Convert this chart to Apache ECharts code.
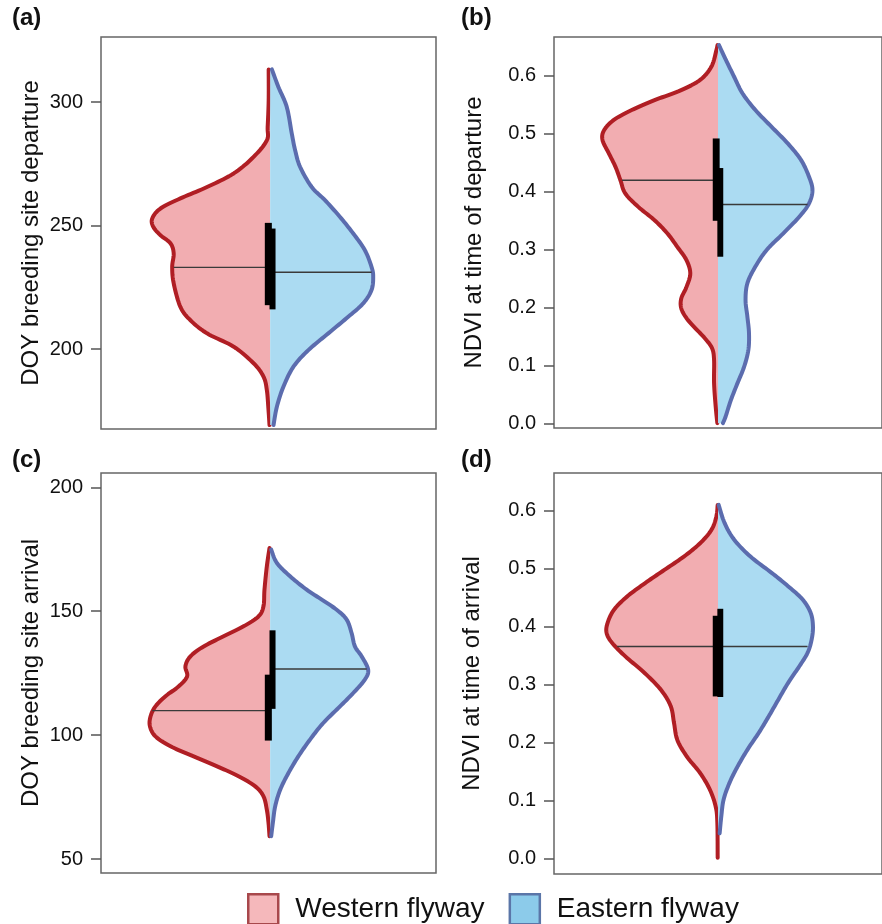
<!DOCTYPE html>
<html>
<head>
<meta charset="utf-8">
<script src="https://cdn.jsdelivr.net/npm/echarts@6/dist/echarts.min.js"></script>
<style>html,body{margin:0;padding:0;background:#fff}#chart{width:882px;height:924px}</style>
</head>
<body>
<div id="chart"></div>
<script>
// ---------- DATA ----------
// Each profile: [value, half-width density]
const depDOYWest = [[313.2,0.009],[300.7,0.009],[289.9,0.015],[284.5,0.020],[277.8,0.099],[271.1,0.218],[265.6,0.377],[261.0,0.536],[256.9,0.655],[252.9,0.704],[249.5,0.698],[246.1,0.655],[242.8,0.595],[238.7,0.576],[233.3,0.585],[226.6,0.576],[217.1,0.536],[211.7,0.476],[206.4,0.377],[201.0,0.218],[194.3,0.099],[188.9,0.040],[183.5,0.020],[175.4,0.010],[169.3,0.004]];
const depDOYEast = [[313.2,0.010],[306.1,0.049],[298.0,0.099],[287.2,0.129],[280.5,0.149],[273.7,0.179],[265.6,0.248],[260.3,0.327],[253.5,0.417],[246.8,0.496],[240.1,0.565],[233.3,0.605],[229.3,0.615],[223.9,0.605],[218.5,0.555],[213.1,0.466],[206.4,0.347],[199.6,0.228],[192.9,0.139],[184.8,0.079],[176.7,0.040],[169.3,0.020]];
const depNDVIWest = [[0.653,0.003],[0.644,0.010],[0.616,0.040],[0.593,0.109],[0.575,0.228],[0.558,0.387],[0.541,0.526],[0.524,0.635],[0.506,0.695],[0.489,0.704],[0.466,0.665],[0.443,0.625],[0.420,0.595],[0.397,0.565],[0.374,0.486],[0.351,0.387],[0.328,0.308],[0.305,0.248],[0.282,0.192],[0.259,0.169],[0.236,0.192],[0.216,0.224],[0.199,0.224],[0.182,0.192],[0.165,0.139],[0.147,0.079],[0.130,0.036],[0.110,0.024],[0.070,0.024],[0.029,0.014],[0.001,0.004]];
const depNDVIEast = [[0.653,0.006],[0.627,0.049],[0.598,0.099],[0.570,0.149],[0.541,0.228],[0.512,0.327],[0.483,0.427],[0.455,0.506],[0.426,0.555],[0.403,0.576],[0.380,0.555],[0.357,0.496],[0.328,0.397],[0.300,0.298],[0.271,0.228],[0.242,0.179],[0.213,0.168],[0.185,0.179],[0.156,0.189],[0.127,0.185],[0.098,0.159],[0.070,0.119],[0.041,0.079],[0.012,0.046],[0.001,0.030]];
const arrDOYWest = [[175.5,0.004],[168.1,0.020],[158.7,0.034],[152.0,0.040],[147.9,0.070],[143.9,0.159],[139.9,0.278],[135.8,0.397],[131.8,0.476],[127.8,0.506],[123.7,0.496],[119.7,0.546],[115.7,0.625],[111.6,0.685],[107.6,0.714],[103.6,0.718],[99.5,0.685],[95.5,0.595],[91.4,0.457],[87.4,0.317],[83.4,0.189],[79.3,0.089],[75.3,0.040],[69.9,0.020],[64.6,0.010],[59.2,0.004]];
const arrDOYEast = [[174.9,0.006],[169.5,0.040],[164.1,0.119],[158.7,0.218],[154.7,0.308],[150.6,0.397],[146.6,0.457],[141.2,0.486],[135.8,0.506],[131.8,0.546],[126.4,0.585],[122.4,0.565],[117.0,0.496],[111.6,0.417],[104.9,0.317],[98.2,0.238],[91.4,0.168],[84.7,0.109],[78.0,0.060],[71.3,0.030],[64.6,0.016],[59.2,0.006]];
const arrNDVIWest = [[0.610,0.002],[0.590,0.010],[0.567,0.040],[0.544,0.109],[0.521,0.208],[0.498,0.327],[0.475,0.446],[0.452,0.555],[0.429,0.635],[0.406,0.674],[0.389,0.679],[0.372,0.645],[0.349,0.565],[0.320,0.446],[0.291,0.347],[0.263,0.288],[0.234,0.268],[0.205,0.248],[0.176,0.189],[0.148,0.109],[0.119,0.049],[0.090,0.014],[0.062,0.004],[0.002,0.002]];
const arrNDVIEast = [[0.610,0.004],[0.579,0.040],[0.550,0.099],[0.521,0.198],[0.493,0.327],[0.470,0.427],[0.447,0.516],[0.424,0.565],[0.401,0.579],[0.378,0.571],[0.355,0.546],[0.332,0.496],[0.303,0.427],[0.274,0.367],[0.245,0.308],[0.217,0.248],[0.188,0.179],[0.159,0.119],[0.131,0.070],[0.102,0.034],[0.073,0.020],[0.044,0.010]];

// per panel: (a) dep DOY, (b) dep NDVI, (c) arr DOY, (d) arr NDVI
const medianWest = [233.1, 0.420, 109.9, 0.366];
const medianWestWidth = [0.576, 0.585, 0.704, 0.615];
const medianEast = [231.1, 0.378, 126.7, 0.366];
const medianEastWidth = [0.605, 0.546, 0.576, 0.546];
const boxWest = [[217.8, 251.1], [0.350, 0.492], [97.8, 124.4], [0.280, 0.419]];
const boxEast = [[216.1, 248.8], [0.288, 0.441], [110.6, 142.3], [0.279, 0.431]];

const panelLabels = ['(a)', '(b)', '(c)', '(d)'];
const axisTitles = ['DOY breeding site departure', 'NDVI at time of departure', 'DOY breeding site arrival', 'NDVI at time of arrival'];
const ticksA = [200, 250, 300];
const ticksB = [0.0, 0.1, 0.2, 0.3, 0.4, 0.5, 0.6];
const ticksC = [50, 100, 150, 200];
const ticksD = [0.0, 0.1, 0.2, 0.3, 0.4, 0.5, 0.6];
const yMin = [167.7, -0.0074, 44.35, -0.026];
const yMax = [326.3, 0.667, 205.8, 0.665];
const seriesNames = ['Western flyway', 'Eastern flyway'];

// ---------- RENDERING ----------
const FONT = "'Liberation Sans', Arial, sans-serif";
const westProfiles = [depDOYWest, depNDVIWest, arrDOYWest, arrNDVIWest];
const eastProfiles = [depDOYEast, depNDVIEast, arrDOYEast, arrNDVIEast];
const tickSets = [ticksA, ticksB, ticksC, ticksD];
const WEST_FILL = '#f2adb1', WEST_LINE = '#b01e24';
const EAST_FILL = '#abdbf2', EAST_LINE = '#5b6cae';

function spline(pts) {
  const out = [];
  const n = pts.length;
  for (let i = 0; i < n - 1; i++) {
    const p0 = pts[Math.max(0, i - 1)], p1 = pts[i], p2 = pts[i + 1], p3 = pts[Math.min(n - 1, i + 2)];
    const steps = 10;
    for (let s = 0; s < steps; s++) {
      const t = s / steps, t2 = t * t, t3 = t2 * t;
      const x = 0.5 * ((2 * p1[0]) + (-p0[0] + p2[0]) * t + (2 * p0[0] - 5 * p1[0] + 4 * p2[0] - p3[0]) * t2 + (-p0[0] + 3 * p1[0] - 3 * p2[0] + p3[0]) * t3);
      const y = 0.5 * ((2 * p1[1]) + (-p0[1] + p2[1]) * t + (2 * p0[1] - 5 * p1[1] + 4 * p2[1] - p3[1]) * t2 + (-p0[1] + 3 * p1[1] - 3 * p2[1] + p3[1]) * t3);
      out.push([x, y]);
    }
  }
  out.push(pts[n - 1]);
  return out;
}

function violinRender(profile, side, fill, stroke) {
  return function (params, api) {
    if (params.dataIndex !== 0) return null;
    const pts = profile.map(p => api.coord([side * p[1], p[0]]));
    const curve = spline(pts);
    const top = api.coord([0, profile[0][0]]);
    const bot = api.coord([0, profile[profile.length - 1][0]]);
    return {
      type: 'group',
      children: [
        { type: 'polygon', shape: { points: [top].concat(curve, [bot]) }, style: { fill: fill, stroke: null } },
        { type: 'polyline', shape: { points: curve }, style: { fill: null, stroke: stroke, lineWidth: 4, lineCap: 'round', lineJoin: 'round' } }
      ]
    };
  };
}

function statsRender(i) {
  return function (params, api) {
    const wm0 = api.coord([-medianWestWidth[i], medianWest[i]]);
    const wm1 = api.coord([0, medianWest[i]]);
    const em0 = api.coord([0, medianEast[i]]);
    const em1 = api.coord([medianEastWidth[i], medianEast[i]]);
    const wb0 = api.coord([-0.032, boxWest[i][1]]);
    const wb1 = api.coord([0.010, boxWest[i][0]]);
    const eb0 = api.coord([-0.004, boxEast[i][1]]);
    const eb1 = api.coord([0.032, boxEast[i][0]]);
    return {
      type: 'group',
      children: [
        { type: 'line', shape: { x1: wm0[0], y1: wm0[1], x2: wm1[0], y2: wm1[1] }, style: { stroke: '#3a3a3a', lineWidth: 1.4 } },
        { type: 'line', shape: { x1: em0[0], y1: em0[1], x2: em1[0], y2: em1[1] }, style: { stroke: '#3a3a3a', lineWidth: 1.4 } },
        { type: 'rect', shape: { x: wb0[0], y: wb0[1], width: wb1[0] - wb0[0], height: wb1[1] - wb0[1] }, style: { fill: '#000' } },
        { type: 'rect', shape: { x: eb0[0], y: eb0[1], width: eb1[0] - eb0[0], height: eb1[1] - eb0[1] }, style: { fill: '#000' } }
      ]
    };
  };
}

const gridPos = [
  { left: 101, top: 37, width: 335, height: 392 },
  { left: 554, top: 37, width: 337, height: 391 },
  { left: 101, top: 473, width: 335, height: 400 },
  { left: 554, top: 473, width: 337, height: 401 }
];
const xExt = [[-1.01, 0.99], [-1, 1], [-1.01, 0.99], [-1, 1]];
const nameGaps = [58, 68, 58, 70];

const grids = [], xAxes = [], yAxes = [], series = [], graphics = [];
for (let i = 0; i < 4; i++) {
  grids.push(Object.assign({ show: true, borderColor: '#666', borderWidth: 1.5, backgroundColor: 'transparent' }, gridPos[i]));
  xAxes.push({ type: 'value', gridIndex: i, min: xExt[i][0], max: xExt[i][1], show: false });
  const isNdvi = (i % 2 === 1);
  yAxes.push({
    type: 'value', gridIndex: i, min: yMin[i], max: yMax[i], position: 'left',
    axisLine: { show: false, onZero: false },
    splitLine: { show: false },
    axisTick: { show: true, length: 10, lineStyle: { color: '#555', width: 1.5 }, customValues: tickSets[i] },
    axisLabel: { customValues: tickSets[i], fontSize: 20, color: '#111', fontFamily: FONT, margin: 18,
      formatter: isNdvi ? (v => Number(v).toFixed(1)) : (v => String(v)) },
    name: axisTitles[i], nameLocation: 'middle', nameGap: nameGaps[i],
    nameTextStyle: { fontSize: 24, color: '#111', fontFamily: FONT }
  });
  series.push({ type: 'custom', name: seriesNames[0], xAxisIndex: i, yAxisIndex: i, data: westProfiles[i], encode: { x: 1, y: 0 },
    renderItem: violinRender(westProfiles[i], -1, WEST_FILL, WEST_LINE), silent: true, z: 2 });
  series.push({ type: 'custom', name: seriesNames[1], xAxisIndex: i, yAxisIndex: i, data: eastProfiles[i], encode: { x: 1, y: 0 },
    renderItem: violinRender(eastProfiles[i], 1, EAST_FILL, EAST_LINE), silent: true, z: 2 });
  series.push({ type: 'custom', name: 'stats' + i, xAxisIndex: i, yAxisIndex: i, data: [[0, medianWest[i]]], encode: { x: 0, y: 1 },
    renderItem: statsRender(i), silent: true, z: 3 });
}
const labelPos = [[12, 6], [461, 6], [12, 448], [461, 448]];
for (let i = 0; i < 4; i++) {
  graphics.push({ type: 'text', left: labelPos[i][0], top: labelPos[i][1],
    style: { text: panelLabels[i], font: 'bold 24px ' + FONT, fill: '#111' } });
}

const chart = echarts.init(document.getElementById('chart'), null, { renderer: 'canvas' });
chart.setOption({
  backgroundColor: '#fff',
  animation: false,
  grid: grids,
  xAxis: xAxes,
  yAxis: yAxes,
  series: series,
  graphic: graphics,
  legend: {
    left: 247, top: 893, padding: 0, itemWidth: 30, itemHeight: 30, itemGap: 24, icon: 'rect', selectedMode: false,
    textStyle: { fontSize: 28, color: '#111', fontFamily: FONT, padding: [0, 0, 0, 12] },
    data: [
      { name: seriesNames[0], itemStyle: { color: '#f5b8bb', borderColor: '#a8484c', borderWidth: 2.5 } },
      { name: seriesNames[1], itemStyle: { color: '#8ccbea', borderColor: '#5b76a8', borderWidth: 2.5 } }
    ]
  }
});
</script>
</body>
</html>
